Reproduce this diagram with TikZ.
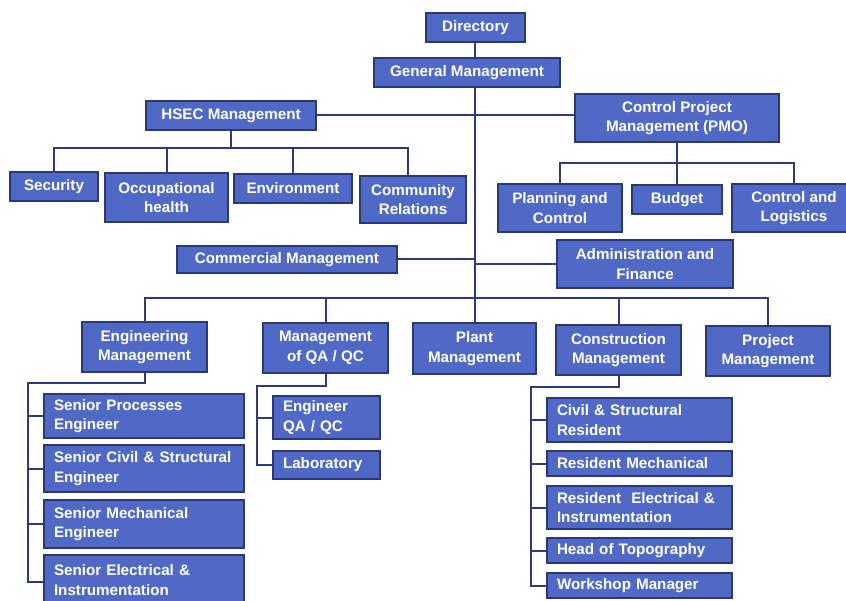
\documentclass[tikz,border=0pt]{standalone}
\usepackage{fontspec}
\setmainfont{Liberation Sans}
\definecolor{boxfill}{HTML}{5069C6}
\definecolor{boxedge}{HTML}{2C3775}
\definecolor{wire}{HTML}{2E3A7C}
\pgfdeclarelayer{background}
\pgfsetlayers{background,main}
\tikzset{
  unit/.style={draw=boxedge, line width=1.2pt, fill=boxfill, text=white,
    font=\fontsize{15.2}{19.5}\selectfont\bfseries, inner sep=0pt, align=center},
  leftunit/.style={unit, align=left, inner xsep=10pt},
  link/.style={draw=wire, line width=2pt},
}
\begin{document}
\begin{tikzpicture}[x=1pt, y=-1pt]
\path[use as bounding box, clip] (0,0) rectangle (846,601);

% top of the chart
\node[unit, minimum width=99pt, minimum height=29pt] (dir) at (475.5,27.5) {Directory};
\node[unit, minimum width=186pt, minimum height=29pt] (gm) at (467,72.5) {General Management};
\node[unit, minimum width=170pt, minimum height=29pt] (hsec) at (231,115.5) {HSEC Management};
\node[unit, minimum width=204pt, minimum height=48pt] (pmo) at (677,118) {Control Project\\Management (PMO)};

% HSEC departments
\node[unit, minimum width=88pt, minimum height=29pt] (sec) at (54,186.5) {Security};
\node[unit, minimum width=123pt, minimum height=49pt] (occ) at (166.5,197.5) {Occupational\\health};
\node[unit, minimum width=118pt, minimum height=29pt] (env) at (293,188.5) {Environment};
\node[unit, minimum width=106pt, minimum height=47pt] (com) at (413,199.5) {Community\\Relations};

% PMO departments
\node[unit, minimum width=124pt, minimum height=48pt] (plan) at (560,208) {Planning and\\Control};
\node[unit, minimum width=90pt, minimum height=29pt] (bud) at (677,199.5) {Budget};
\node[unit, minimum width=124pt, minimum height=48pt] (ctl) at (794,208) {Control and\\Logistics};

% staff units on the trunk
\node[unit, minimum width=220pt, minimum height=27pt] (comm) at (287,259.5) {Commercial Management};
\node[unit, minimum width=176pt, minimum height=48pt] (adm) at (645,264) {Administration and\\Finance};

% line managements
\node[unit, minimum width=125pt, minimum height=50pt] (eng) at (144.5,347) {Engineering\\Management};
\node[unit, minimum width=125pt, minimum height=50pt] (qa) at (325.5,348) {Management\\of QA / QC};
\node[unit, minimum width=123pt, minimum height=51pt] (plant) at (474.5,348.5) {Plant\\Management};
\node[unit, minimum width=125pt, minimum height=50pt] (con) at (618.5,350) {Construction\\Management};
\node[unit, minimum width=124pt, minimum height=50pt] (proj) at (768,351) {Project\\Management};

% engineering staff
\node[leftunit, text width=180pt, minimum height=44pt] (sp) at (144,416) {Senior Processes\\Engineer};
\node[leftunit, text width=180pt, minimum height=47pt] (sc) at (144,468.5) {Senior Civil \& Structural\\Engineer};
\node[leftunit, text width=180pt, minimum height=48pt] (sm) at (144,524) {Senior Mechanical\\Engineer};
\node[leftunit, text width=180pt, minimum height=50pt] (se) at (144,580) {Senior Electrical \&\\Instrumentation};

% QA / QC staff
\node[leftunit, text width=87pt, minimum height=43pt] (eqa) at (326.5,417.5) {Engineer\\QA / QC};
\node[leftunit, text width=87pt, minimum height=28pt] (lab) at (326.5,465) {Laboratory};

% construction staff
\node[leftunit, text width=165pt, minimum height=44pt] (csr) at (639.5,420) {Civil \& Structural\\Resident};
\node[leftunit, text width=165pt, minimum height=25pt] (rm) at (639.5,463.5) {Resident Mechanical};
\node[leftunit, text width=165pt, minimum height=43pt] (rei) at (639.5,507.5) {Resident\ \ Electrical \&\\Instrumentation};
\node[leftunit, text width=165pt, minimum height=25pt] (ht) at (639.5,550.5) {Head of Topography};
\node[leftunit, text width=165pt, minimum height=25pt] (wm) at (639.5,585.5) {Workshop Manager};

% bus and spine coordinates
\coordinate (trunk) at (475,298);
\coordinate (hbus) at (0,148);
\coordinate (pbus) at (0,163);
\coordinate (espine) at (28,383);
\coordinate (qspine) at (257,386);
\coordinate (cspine) at (531,387);

\begin{pgfonlayer}{background}
\fill[white] (0,0) rectangle (846,601);
% main trunk
\draw[link] (dir.south -| trunk) -- (trunk);
\draw[link] (hsec.east) -- (pmo.west |- hsec.east);
\draw[link] (comm.east) -- (comm.east -| trunk);
\draw[link] (adm.west) -- (adm.west -| trunk);

% HSEC bus
\draw[link] (hsec.south) -- (hsec.south |- hbus);
\draw[link] (sec.north) -- (sec.north |- hbus) -- ([xshift=-5pt]com.north |- hbus) -- ([xshift=-5pt]com.north);
\draw[link] (occ.north) -- (occ.north |- hbus);
\draw[link] (env.north) -- (env.north |- hbus);

% PMO bus
\draw[link] (pmo.south) -- (pmo.south |- pbus);
\draw[link] (plan.north) -- (plan.north |- pbus) -- (ctl.north |- pbus) -- (ctl.north);
\draw[link] (bud.north) -- (bud.north |- pbus);

% management bus
\draw[link] (eng.north) -- (eng.north |- trunk) -- (proj.north |- trunk) -- (proj.north);
\draw[link] (qa.north) -- (qa.north |- trunk);
\draw[link] (plant.north -| trunk) -- (trunk);
\draw[link] (con.north) -- (con.north |- trunk);

% engineering spine
\draw[link] (eng.south) |- (espine) |- ([yshift=-2pt]se.west);
\draw[link] (espine |- sp.west) -- (sp.west);
\draw[link] (espine |- sc.west) -- (sc.west);
\draw[link] (espine |- sm.west) -- (sm.west);

% QA / QC spine
\draw[link] (qa.south) |- (qspine) |- (lab.west);
\draw[link] (qspine |- eqa.west) -- (eqa.west);

% construction spine
\draw[link] (con.south) |- (cspine) |- (wm.west);
\draw[link] (cspine |- csr.west) -- (csr.west);
\draw[link] (cspine |- rm.west) -- (rm.west);
\draw[link] (cspine |- rei.west) -- (rei.west);
\draw[link] (cspine |- ht.west) -- (ht.west);
\end{pgfonlayer}
\end{tikzpicture}
\end{document}
